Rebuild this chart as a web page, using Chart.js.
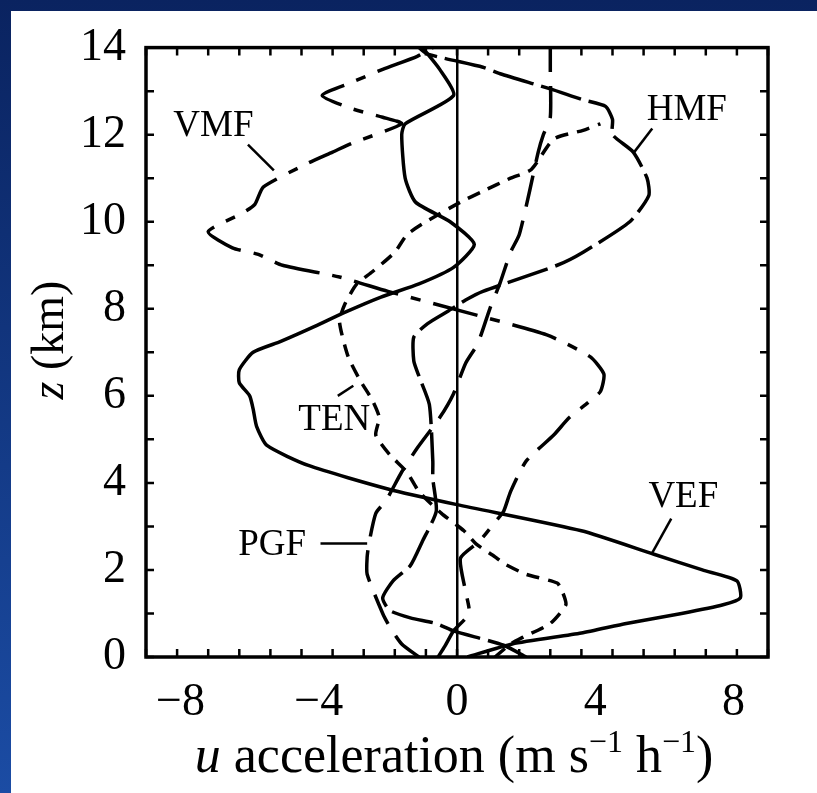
<!DOCTYPE html>
<html><head><meta charset="utf-8">
<script src="https://cdn.jsdelivr.net/npm/chart.js@4.4.0/dist/chart.umd.min.js"></script>
<style>
html,body{margin:0;padding:0;}
body{width:817px;height:793px;overflow:hidden;background:linear-gradient(to bottom,#0a2360,#1b4ca4);position:relative;}
#paper{position:absolute;left:11px;top:11px;width:806px;height:782px;background:#fff;}
#c{position:absolute;left:0;top:0;}
</style></head><body>
<div id="paper"></div>
<canvas id="c" width="817" height="793"></canvas>
<script>
// ---- data: height z (km) and u acceleration (m s^-1 h^-1) for each term ----
const vefZ = [0, 0.3, 0.55, 0.77, 1.0, 1.2, 1.36, 1.75, 2.0, 2.36, 2.9, 3.5, 3.86, 4.4, 4.86, 5.3, 5.7, 6.0, 6.3, 6.6, 7.0, 7.25, 7.6, 7.9, 8.27, 8.57, 8.95, 9.48, 10.0, 10.45, 11.0, 12.0, 12.25, 12.9, 13.5, 14.0];
const vefU = [0.3, 1.6, 3.6, 4.9, 6.5, 7.7, 8.2, 8.1, 7.1, 5.7, 3.6, 0, -2.0, -4.3, -5.5, -5.8, -5.9, -6.0, -6.3, -6.3, -5.9, -5.1, -4.1, -3.3, -2.2, -1.1, -0.1, 0.5, -0.2, -1.2, -1.5, -1.6, -1.5, -0.1, -0.5, -1.0];

const hmfZ = [0, 0.27, 0.6, 0.77, 0.9, 1.07, 1.36, 1.75, 2.1, 2.66, 3.35, 4.1, 4.5, 5.8, 6.45, 6.8, 7.35, 7.66, 7.95, 8.2, 8.4, 9.0, 9.3, 10.0, 10.6, 11.0, 11.6, 12.0, 12.35, 12.65, 12.8, 13.05, 13.4, 13.55, 13.85, 14.0];
const hmfU = [2.0, 1.35, -0.1, -0.6, -1.35, -1.95, -2.15, -1.85, -1.35, -1.0, -0.6, -0.7, -0.7, -0.8, -1.1, -1.25, -1.25, -0.85, -0.25, 0.25, 0.75, 2.9, 3.65, 5.0, 5.55, 5.5, 5.1, 4.5, 4.5, 4.3, 3.65, 2.7, 1.25, 0.75, -0.85, -1.1];

const pgfZ = [0, 0.3, 0.7, 1.0, 1.9, 2.3, 2.6, 3.3, 3.6, 4.25, 4.8, 5.5, 6.05, 6.75, 7.2, 8.0, 8.6, 9.3, 9.7, 10.7, 11.6, 12.0, 12.4, 13.5, 14.0];
const pgfU = [-1.1, -1.6, -1.95, -2.15, -2.6, -2.6, -2.55, -2.35, -2.05, -1.6, -1.15, -0.5, -0.1, 0.25, 0.6, 0.95, 1.25, 1.55, 1.8, 2.1, 2.35, 2.5, 2.7, 2.7, 2.7];

const vmfZ = [0, 0.25, 0.6, 1.0, 1.5, 2.27, 2.66, 3.1, 3.35, 3.8, 4.5, 5.1, 5.5, 5.85, 6.1, 6.5, 6.9, 7.4, 7.9, 8.4, 8.73, 9.0, 9.25, 9.4, 9.77, 10.2, 10.4, 10.8, 11.35, 11.6, 11.8, 12.25, 12.4, 12.6, 12.9, 13.2, 13.5, 13.8, 14.0];
const vmfU = [-0.55, -0.35, -0.1, 0.35, 0.25, 0.1, 0.65, 1.1, 1.35, 1.55, 2.0, 2.8, 3.25, 3.8, 4.15, 4.25, 3.85, 2.6, 0.35, -2.0, -3.4, -5.05, -5.75, -6.5, -7.2, -6.2, -5.85, -5.6, -4.3, -3.6, -3.05, -1.6, -2.15, -3.05, -3.9, -3.05, -2.15, -1.15, -0.7];

const tenZ = [0, 0.3, 0.45, 0.77, 1.2, 1.5, 1.7, 1.9, 2.15, 2.3, 2.6, 2.9, 3.3, 3.8, 4.25, 4.65, 5.1, 5.5, 5.9, 6.35, 6.9, 7.7, 8.1, 8.57, 8.85, 9.3, 9.7, 10.0, 10.45, 10.7, 11.0, 11.2, 11.9, 12.1, 12.25];
const tenU = [1.1, 1.55, 1.9, 2.7, 3.15, 3.05, 2.9, 2.0, 1.35, 1.1, 0.55, 0.2, -0.45, -1.1, -1.45, -1.95, -2.35, -2.25, -2.45, -2.8, -3.15, -3.4, -3.25, -2.9, -2.45, -1.8, -1.45, -0.9, 0.1, 0.75, 1.55, 2.15, 2.8, 3.65, 4.15];

const xTickLabels = [-8, -4, 0, 4, 8];
const yTickLabels = [0, 2, 4, 6, 8, 10, 12, 14];

// curve labels (text, anchor in data units) and leader lines
const curveNames = ['VMF', 'HMF', 'TEN', 'PGF', 'VEF'];
const nameAnchors = [[-7.05, 12.2], [6.65, 12.57], [-3.55, 5.43], [-5.35, 2.57], [6.55, 3.66]];
const leaders = [[-6.05, 11.77, -5.3, 11.18], [5.65, 12.14, 5.1, 11.57], [-3.45, 6.0, -3.0, 6.23], [-3.95, 2.61, -2.6, 2.61], [6.2, 3.18, 5.65, 2.39]];

const SERIF = '"Liberation Serif", "DejaVu Serif", serif';
const toPts = (zs, us) => zs.map((z, i) => ({x: us[i], y: z}));

function ds(label, zs, us, dash) {
  return {label, data: toPts(zs, us), showLine: true, pointRadius: 0, borderColor: '#000',
    borderWidth: 3.5, borderDash: dash, tension: 0.2, fill: false, borderCapStyle: 'butt'};
}

const framePlugin = {
  id: 'frame',
  afterDatasetsDraw(chart) {
    const {ctx, chartArea: a, scales: {x, y}} = chart;
    ctx.save();
    ctx.strokeStyle = '#000';
    ctx.lineWidth = 3.5;
    ctx.strokeRect(a.left, a.top, a.right - a.left, a.bottom - a.top);
    ctx.lineWidth = 2.5;
    ctx.beginPath();
    // minor tick marks drawn inward, 20 intervals across the width
    for (let i = 0; i <= 20; i++) {
      const px = x.getPixelForValue(x.min + i * (x.max - x.min) / 20);
      ctx.moveTo(px, a.bottom); ctx.lineTo(px, a.bottom - 8);
      ctx.moveTo(px, a.top); ctx.lineTo(px, a.top + 8);
    }
    for (let v = y.min; v <= y.max; v++) {
      const py = y.getPixelForValue(v);
      ctx.moveTo(a.left, py); ctx.lineTo(a.left + 8, py);
      ctx.moveTo(a.right, py); ctx.lineTo(a.right - 8, py);
    }
    ctx.stroke();
    // curve names and leader lines
    ctx.fillStyle = '#000';
    ctx.font = '37px ' + SERIF;
    ctx.textAlign = 'center';
    ctx.textBaseline = 'middle';
    curveNames.forEach((t, i) => {
      ctx.fillText(t, x.getPixelForValue(nameAnchors[i][0]), y.getPixelForValue(nameAnchors[i][1]));
      const L = leaders[i];
      ctx.beginPath();
      ctx.lineWidth = 2.5;
      ctx.moveTo(x.getPixelForValue(L[0]), y.getPixelForValue(L[1]));
      ctx.lineTo(x.getPixelForValue(L[2]), y.getPixelForValue(L[3]));
      ctx.stroke();
    });
    // axis titles
    const cx = (a.left + a.right) / 2;
    const parts = [
      {t: 'u', f: 'italic 52px ' + SERIF, dy: 0},
      {t: ' acceleration (m s', f: '52px ' + SERIF, dy: 0},
      {t: '\u22121', f: '32px ' + SERIF, dy: -20},
      {t: ' h', f: '52px ' + SERIF, dy: 0},
      {t: '\u22121', f: '32px ' + SERIF, dy: -20},
      {t: ')', f: '52px ' + SERIF, dy: 0}
    ];
    let total = 0;
    parts.forEach(p => { ctx.font = p.f; p.w = ctx.measureText(p.t).width; total += p.w; });
    let px = cx - total / 2 - 3;
    ctx.textAlign = 'left';
    ctx.textBaseline = 'alphabetic';
    parts.forEach(p => { ctx.font = p.f; ctx.fillText(p.t, px, 772 + p.dy); px += p.w; });
    // y title rotated
    ctx.translate(48, 340);
    ctx.rotate(-Math.PI / 2);
    const yp = [{t: 'z', f: 'italic 46px ' + SERIF}, {t: ' (km)', f: '46px ' + SERIF}];
    let yt = 0;
    yp.forEach(p => { ctx.font = p.f; p.w = ctx.measureText(p.t).width; yt += p.w; });
    let qx = -yt / 2;
    yp.forEach(p => { ctx.font = p.f; ctx.fillText(p.t, qx, 15); qx += p.w; });
    ctx.restore();
  }
};

new Chart(document.getElementById('c'), {
  type: 'scatter',
  data: {datasets: [
    ds('VEF', vefZ, vefU, []),
    ds('HMF', hmfZ, hmfU, [42, 8]),
    ds('PGF', pgfZ, pgfU, [32, 14]),
    ds('VMF', vmfZ, vmfU, [46, 13, 10, 13]),
    ds('TEN', tenZ, tenU, [13, 9])
  ]},
  options: {
    responsive: false, animation: false, devicePixelRatio: 1,
    layout: {padding: {top: 41, right: 49, left: 0, bottom: 0}},
    plugins: {legend: {display: false}, tooltip: {enabled: false}},
    scales: {
      x: {type: 'linear', min: -9, max: 9,
        afterBuildTicks: s => { s.ticks = []; for (let v = -9; v <= 9; v++) s.ticks.push({value: v}); },
        afterFit: s => { s.height = 793 - 657; },
        border: {display: false},
        grid: {drawTicks: false, color: c => (c.tick && c.tick.value === 0) ? '#000' : 'rgba(0,0,0,0)', lineWidth: 2.5},
        ticks: {autoSkip: false, maxRotation: 0, minRotation: 0, padding: 18, color: '#000',
          font: {family: SERIF, size: 46},
          callback: v => xTickLabels.includes(v) ? (v < 0 ? '\u2212' + Math.abs(v) : String(v)) : ''}
      },
      y: {type: 'linear', min: 0, max: 14,
        afterBuildTicks: s => { s.ticks = []; for (let v = 0; v <= 14; v++) s.ticks.push({value: v}); },
        afterFit: s => { s.width = 146; },
        border: {display: false},
        grid: {display: false, drawTicks: false},
        ticks: {autoSkip: false, padding: 20, color: '#000', font: {family: SERIF, size: 46},
          callback: v => yTickLabels.includes(v) ? String(v) : ''}
      }
    }
  },
  plugins: [framePlugin]
});
</script>
</body></html>
